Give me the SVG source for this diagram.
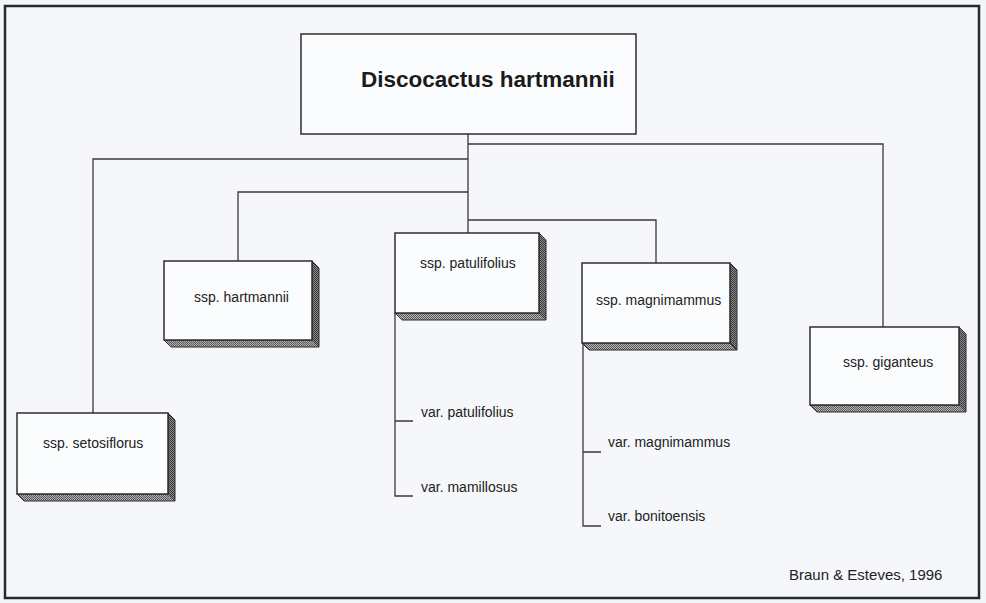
<svg xmlns="http://www.w3.org/2000/svg" width="986" height="603" viewBox="0 0 986 603">
<defs>
<pattern id="dith" width="2" height="2" patternUnits="userSpaceOnUse">
<rect width="2" height="2" fill="#b4b4b4"/>
<rect width="1" height="1" fill="#5a5a5a"/>
<rect x="1" y="1" width="1" height="1" fill="#5a5a5a"/>
</pattern>
<pattern id="dithD" width="2" height="2" patternUnits="userSpaceOnUse">
<rect width="2" height="2" fill="#8a8a8a"/>
<rect width="1" height="1" fill="#3a3a3a"/>
<rect x="1" y="1" width="1" height="1" fill="#3a3a3a"/>
</pattern>
</defs>
<style>
.box{fill:#fbfcfd;stroke:#2e2e2e;stroke-width:1.5}
.side{fill:url(#dithD);stroke:#2e2e2e;stroke-width:1}
.bot{fill:url(#dith);stroke:#2e2e2e;stroke-width:1}
.lbl{font-family:"Liberation Sans",Arial,sans-serif;font-size:14px;fill:#222}
.var{font-family:"Liberation Sans",Arial,sans-serif;font-size:14px;fill:#222}
.ttl{font-family:"Liberation Sans",Arial,sans-serif;font-size:22.5px;font-weight:bold;fill:#1a1a1a}
.con{fill:none;stroke:#3a3a3a;stroke-width:1.3}
</style>
<rect width="986" height="603" fill="#f3f6f9"/>
<rect x="5" y="6" width="974" height="592" fill="#f5f7fa" stroke="#2a2a2a" stroke-width="2.5"/>

<g id="connectors">
<path class="con" d="M468,134 V233"/>
<path class="con" d="M468,144 H883 V327"/>
<path class="con" d="M468,159 H93 V413"/>
<path class="con" d="M468,192 H238 V261"/>
<path class="con" d="M468,220 H656 V263"/>
<path class="con" d="M395,313 V496 H413 M395,421 H413"/>
<path class="con" d="M583,343 V526 H601 M583,452 H601"/>
</g>

<g id="root">
<rect class="box" x="301" y="34" width="335" height="100"/>
<text class="ttl" x="361" y="87">Discocactus hartmannii</text>
</g>

<g id="ssp-hartmannii">
<polygon class="side" points="312,261 319,268 319,347 312,340"/>
<polygon class="bot" points="164,340 312,340 319,347 171,347"/>
<rect class="box" x="164" y="261" width="148" height="79"/>
<text class="lbl" x="194" y="302">ssp. hartmannii</text>
</g>

<g id="ssp-patulifolius">
<polygon class="side" points="539,233 546,240 546,320 539,313"/>
<polygon class="bot" points="395,313 539,313 546,320 402,320"/>
<rect class="box" x="395" y="233" width="144" height="80"/>
<text class="lbl" x="420" y="268">ssp. patulifolius</text>
</g>

<g id="ssp-magnimammus">
<polygon class="side" points="730,263 737,270 737,350 730,343"/>
<polygon class="bot" points="582,343 730,343 737,350 589,350"/>
<rect class="box" x="582" y="263" width="148" height="80"/>
<text class="lbl" x="596" y="305">ssp. magnimammus</text>
</g>

<g id="ssp-giganteus">
<polygon class="side" points="959,327 966,334 966,412 959,405"/>
<polygon class="bot" points="810,405 959,405 966,412 817,412"/>
<rect class="box" x="810" y="327" width="149" height="78"/>
<text class="lbl" x="843" y="367">ssp. giganteus</text>
</g>

<g id="ssp-setosiflorus">
<polygon class="side" points="168,413 175,420 175,501 168,494"/>
<polygon class="bot" points="17,494 168,494 175,501 24,501"/>
<rect class="box" x="17" y="413" width="151" height="81"/>
<text class="lbl" x="43" y="448">ssp. setosiflorus</text>
</g>

<g id="var-patulifolius"><text class="var" x="421" y="417">var. patulifolius</text></g>
<g id="var-mamillosus"><text class="var" x="421" y="492">var. mamillosus</text></g>
<g id="var-magnimammus"><text class="var" x="608" y="447">var. magnimammus</text></g>
<g id="var-bonitoensis"><text class="var" x="608" y="521">var. bonitoensis</text></g>

<text class="lbl" x="789" y="580" style="font-size:15px">Braun &amp; Esteves, 1996</text>
</svg>
